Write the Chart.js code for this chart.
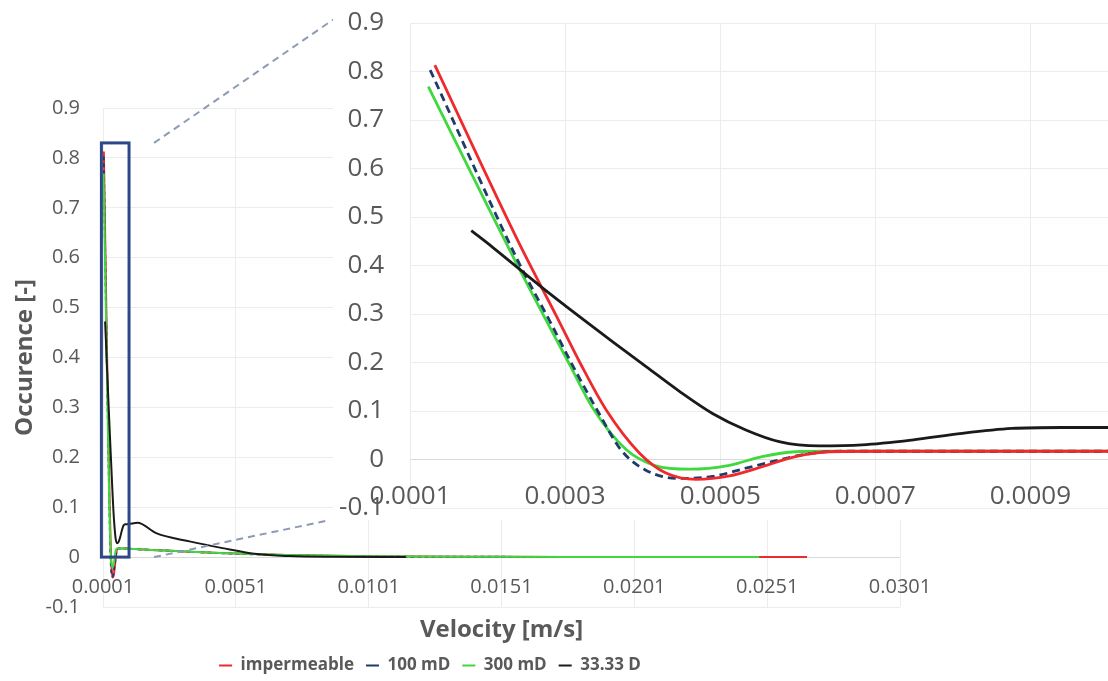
<!DOCTYPE html>
<html>
<head>
<meta charset="utf-8">
<title>Velocity distribution</title>
<script src="https://cdn.jsdelivr.net/npm/chart.js@4.4.1/dist/chart.umd.min.js"></script>
<style>
  html, body { margin: 0; padding: 0; background: #fff; width: 1108px; height: 681px; overflow: hidden; }
  #mainBox { position: absolute; left: 0; top: 0; width: 1108px; height: 681px; }
  #zoomBox { position: absolute; left: 333px; top: 0; width: 775px; height: 520px; background: #fff; }
</style>
</head>
<body>
<div id="mainBox"><canvas id="mainChart"></canvas></div>
<div id="zoomBox"><canvas id="zoomChart"></canvas></div>
<script>
// ---- series ----
const seriesNames = ['impermeable', '100 mD', '300 mD', '33.33 D'];

const velImpermeable = [0.000132, 0.00024, 0.000289, 0.000319, 0.000353, 0.000396, 0.00043, 0.000469, 0.000512, 0.000554, 0.000597, 0.00064, 0.0007, 0.001, 0.0013, 0.0025, 0.0045, 0.007, 0.01, 0.015, 0.02, 0.0266];
const occImpermeable = [0.813, 0.448, 0.295, 0.2, 0.102, 0.013, -0.028, -0.041, -0.034, -0.015, 0.006, 0.016, 0.017, 0.017, 0.016, 0.013, 0.008, 0.004, 0.0015, 0.0005, 0.0002, 0.0001];

const vel100mD = [0.000126, 0.00024, 0.000282, 0.000311, 0.000342, 0.000372, 0.000404, 0.000447, 0.00049, 0.000533, 0.000576, 0.00061, 0.00066, 0.001, 0.0013, 0.0025, 0.0045, 0.007, 0.01, 0.015, 0.0226];
const occ100mD = [0.803, 0.407, 0.28, 0.19, 0.1, 0.02, -0.022, -0.039, -0.035, -0.018, -0.001, 0.011, 0.017, 0.017, 0.016, 0.013, 0.008, 0.004, 0.0015, 0.0005, 0.0001];

const vel300mD = [0.0001236, 0.000233, 0.000306, 0.000336, 0.000379, 0.000417, 0.00046, 0.000512, 0.000554, 0.000597, 0.00064, 0.001, 0.0013, 0.0025, 0.0045, 0.007, 0.01, 0.015, 0.02, 0.0248];
const occ300mD = [0.769, 0.418, 0.195, 0.105, 0.02, -0.013, -0.02, -0.012, 0.006, 0.016, 0.017, 0.017, 0.016, 0.013, 0.008, 0.004, 0.0015, 0.0005, 0.0002, 0.0001];

const vel33D = [0.000179, 0.000207, 0.00027, 0.000319, 0.000361, 0.000404, 0.000447, 0.00049, 0.000533, 0.000576, 0.000627, 0.000683, 0.000747, 0.000812, 0.000876, 0.00094, 0.001, 0.0014, 0.0021, 0.0034, 0.0046, 0.0059, 0.0071, 0.0086, 0.0115];
const occ33D = [0.472, 0.437, 0.355, 0.294, 0.243, 0.192, 0.141, 0.095, 0.061, 0.037, 0.028, 0.03, 0.04, 0.054, 0.064, 0.066, 0.066, 0.069, 0.048, 0.031, 0.018, 0.006, 0.002, 0.0005, 0];

// ---- axis tick labels ----
const mainXTickLabels = ['0.0001', '0.0051', '0.0101', '0.0151', '0.0201', '0.0251', '0.0301'];
const zoomXTickLabels = ['0.0001', '0.0003', '0.0005', '0.0007', '0.0009'];

// ---- look ----
const TEXT = '#595959';
const GRID = '#ececec';
const ZERO_GRID = '#d9d9d9';
const COLORS = ['#ee2a2d', '#1f3a6b', '#3fd83f', '#1a1a1a'];
const FONT = "'Open Sans', 'Noto Sans', sans-serif";
Chart.defaults.font.family = FONT;
Chart.defaults.color = TEXT;

// outlined region of the overview that the enlarged panel shows
const ZOOM_REGION = { xFrom: 0.00004, xTo: 0.00108, yFrom: 0, yTo: 0.83 };
// where the dashed leader lines meet the enlarged panel (page pixels)
const LEADER_TOP = { x: 337, y: 17 };
const LEADER_BOTTOM = { x: 330, y: 520 };
const LEGEND_SHIFT = -20;

const pairs = (xs, ys) => xs.map((v, i) => ({ x: v, y: ys[i] }));
const seriesData = [
  pairs(velImpermeable, occImpermeable),
  pairs(vel100mD, occ100mD),
  pairs(vel300mD, occ300mD),
  pairs(vel33D, occ33D)
];

function makeDatasets(width, dash, order) {
  return seriesNames.map((name, i) => ({
    label: name,
    data: seriesData[i],
    borderColor: COLORS[i],
    backgroundColor: COLORS[i],
    borderWidth: width,
    borderDash: i === 1 ? dash : [],
    pointRadius: 0,
    pointStyle: 'line',
    fill: false,
    cubicInterpolationMode: 'monotone',
    order: order[i]
  }));
}

const oneDecimal = v => String(Math.round(v * 10) / 10);
const gridColor = c => (c.tick && Math.abs(c.tick.value) < 1e-9 ? ZERO_GRID : GRID);
const tickValues = labels => labels.map(s => ({ value: parseFloat(s) }));
// fixed axis width; tick labels may overhang the plot edges without shrinking it
const fixedWidth = w => s => { s.width = w; s.paddingTop = 0; s.paddingBottom = 0; };

// outline of the enlarged region plus dashed leader lines
const zoomFrame = {
  id: 'zoomFrame',
  afterDatasetsDraw(chart) {
    const { ctx, scales: { x, y } } = chart;
    const l = x.getPixelForValue(ZOOM_REGION.xFrom);
    const r = x.getPixelForValue(ZOOM_REGION.xTo);
    const t = y.getPixelForValue(ZOOM_REGION.yTo);
    const b = y.getPixelForValue(ZOOM_REGION.yFrom);
    ctx.save();
    ctx.strokeStyle = '#2e4786';
    ctx.lineWidth = 3;
    ctx.strokeRect(l, t, r - l, b - t);
    ctx.strokeStyle = '#8d9bb8';
    ctx.lineWidth = 2;
    ctx.setLineDash([7, 5]);
    ctx.beginPath();
    ctx.moveTo(r + 25, t);
    ctx.lineTo(LEADER_TOP.x, LEADER_TOP.y);
    ctx.moveTo(r + 25, b);
    ctx.lineTo(LEADER_BOTTOM.x, LEADER_BOTTOM.y);
    ctx.stroke();
    ctx.restore();
  }
};

// nudge the legend row to sit under the left part of the figure
const legendOffset = {
  id: 'legendOffset',
  afterLayout(chart) {
    chart.legend.left += LEGEND_SHIFT;
    chart.legend.right += LEGEND_SHIFT;
  }
};

// ---- overview chart ----
new Chart(document.getElementById('mainChart'), {
  type: 'line',
  data: { datasets: makeDatasets(2, [4, 3], [3, 2, 1, 0]) },
  plugins: [zoomFrame, legendOffset],
  options: {
    responsive: true,
    maintainAspectRatio: false,
    animation: false,
    devicePixelRatio: 1,
    layout: { autoPadding: false, padding: { left: 0, right: 208, top: 108, bottom: -3 } },
    plugins: {
      tooltip: { enabled: false },
      legend: {
        position: 'bottom',
        labels: {
          usePointStyle: true,
          pointStyleWidth: 13,
          boxHeight: 2,
          color: TEXT,
          font: { size: 17, weight: 'bold' },
          padding: 12,
          sort: (a, b) => a.datasetIndex - b.datasetIndex
        }
      }
    },
    scales: {
      x: {
        type: 'linear',
        position: { y: 0 },
        min: 0.0001,
        max: 0.0301,
        afterBuildTicks: s => { s.ticks = tickValues(mainXTickLabels); },
        ticks: {
          callback: (v, i) => mainXTickLabels[i],
          font: { size: 20 },
          color: TEXT,
          padding: 18,
          maxRotation: 0,
          autoSkip: false
        },
        grid: { color: GRID, drawTicks: false },
        border: { display: false }
      },
      xTitle: {
        type: 'linear',
        position: 'bottom',
        min: 0.0001,
        max: 0.0301,
        afterFit: s => { s.height = 38; },
        ticks: { display: false },
        grid: { display: false, drawTicks: false },
        border: { display: false },
        title: {
          display: true,
          text: 'Velocity [m/s]',
          color: TEXT,
          font: { size: 24, weight: 'bold' },
          padding: { top: 0, bottom: 0 }
        }
      },
      y: {
        min: -0.1,
        max: 0.9,
        afterFit: fixedWidth(103),
        ticks: { stepSize: 0.1, callback: oneDecimal, font: { size: 20 }, color: TEXT, padding: 23 },
        grid: { color: gridColor, drawTicks: false },
        border: { display: false },
        title: {
          display: true,
          text: 'Occurence [-]',
          color: TEXT,
          font: { size: 24, weight: 'bold' },
          padding: { top: 11, bottom: 0 }
        }
      }
    }
  }
});

// ---- enlarged panel ----
new Chart(document.getElementById('zoomChart'), {
  type: 'line',
  data: { datasets: makeDatasets(2.8, [8, 5], [1, 2, 3, 0]) },
  options: {
    responsive: true,
    maintainAspectRatio: false,
    animation: false,
    devicePixelRatio: 1,
    layout: { autoPadding: false, padding: { left: 0, right: 0, top: 23, bottom: 12 } },
    plugins: { tooltip: { enabled: false }, legend: { display: false } },
    scales: {
      x: {
        type: 'linear',
        position: { y: 0 },
        min: 0.0001,
        max: 0.001,
        afterBuildTicks: s => { s.ticks = tickValues(zoomXTickLabels); },
        ticks: {
          callback: (v, i) => zoomXTickLabels[i],
          font: { size: 26 },
          color: TEXT,
          padding: 21,
          maxRotation: 0,
          autoSkip: false
        },
        grid: { color: GRID, drawTicks: false },
        border: { display: false }
      },
      y: {
        min: -0.1,
        max: 0.9,
        afterFit: fixedWidth(77),
        ticks: { stepSize: 0.1, callback: oneDecimal, font: { size: 26 }, color: TEXT, padding: 26 },
        grid: { color: gridColor, drawTicks: false },
        border: { display: false }
      }
    }
  }
});
</script>
</body>
</html>
